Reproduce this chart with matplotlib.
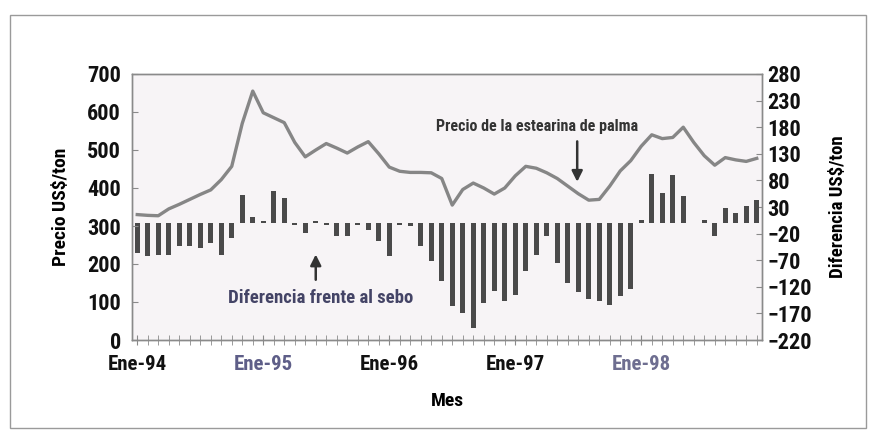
import matplotlib
matplotlib.use("Agg")
import matplotlib.pyplot as plt
from matplotlib.patches import Rectangle
from matplotlib import font_manager

names = {f.name for f in font_manager.fontManager.ttflist}
cands = ['Liberation Sans Narrow', 'Roboto Condensed', 'DejaVu Sans Condensed',
         'Open Sans Condensed', 'Noto Sans Condensed']
FONT = [c for c in cands if c in names] + ['DejaVu Sans']
plt.rcParams['font.family'] = FONT
plt.rcParams['font.weight'] = 'bold'
plt.rcParams['font.stretch'] = 'condensed'

# Monthly data, Ene-94 .. Dic-98
precio = [330, 328, 327, 345, 357, 370, 383, 395, 422, 457,
          570, 655, 598, 585, 572, 520, 482, 500, 517, 505,
          492, 508, 522, 490, 455, 444, 441, 441, 440, 425,
          355, 396, 413, 400, 384, 400, 432, 457, 452, 440,
          425, 405, 385, 368, 370, 405, 445, 472, 510, 540,
          530, 533, 560, 520, 485, 460, 480, 474, 470, 478]
diferencia = [-57, -62, -60, -60, -43, -43, -47, -38, -60, -28,
              53, 12, 3, 60, 47, -4, -19, 4, -4, -25,
              -25, -4, -13, -33, -62, -3, -6, -43, -72, -110,
              -157, -170, -198, -151, -128, -147, -136, -91, -60, -25,
              -75, -113, -130, -142, -147, -155, -138, -125, 6, 92,
              57, 90, 51, 0, 5, -25, 28, 19, 32, 43]
meses = list(range(len(precio)))
tick_pos = [0, 12, 24, 36, 48]
tick_labels = ['Ene-94', 'Ene-95', 'Ene-96', 'Ene-97', 'Ene-98']
tick_colors = ['#111111', '#5e5e88', '#111111', '#111111', '#6e6e90']
left_ticks = [0, 100, 200, 300, 400, 500, 600, 700]
right_ticks = [-220, -170, -120, -70, -20, 30, 80, 130, 180, 230, 280]

fig = plt.figure(figsize=(8.76, 4.36), dpi=100)
fig.patches.append(Rectangle((10/876, 1-428/436), 856/876, 413/436,
                             transform=fig.transFigure, fill=False,
                             edgecolor='#9a9a9a', linewidth=1.0))
ax = fig.add_axes([132/876, 1-340/436, 630/876, 266/436])
ax2 = ax.twinx()

ax2.bar(meses, diferencia, width=0.5, color='#4a4a4a', zorder=2)
ax.plot(meses, precio, color='#868686', linewidth=2.4, zorder=3)
ax.set_zorder(ax2.get_zorder() + 1)
ax.patch.set_visible(False)
ax2.patch.set_visible(True)
ax2.patch.set_facecolor('#f7f4f6')

ax.set_xlim(-0.5, 59.5)
ax.set_ylim(0, 700)
ax2.set_ylim(-220, 280)
ax.set_yticks(left_ticks)
ax2.set_yticks(right_ticks)
ax.set_xticks(tick_pos)
ax.set_xticklabels(tick_labels)
for lab, c in zip(ax.get_xticklabels(), tick_colors):
    lab.set_color(c)
ax.set_xticks(meses, minor=True)

for a in (ax, ax2):
    for s in a.spines.values():
        s.set_color('#8a8a8a')
        s.set_linewidth(1.0)

ax.tick_params(axis='y', direction='in', length=4, color='#8a8a8a',
               labelsize=16, pad=8, labelcolor='#111111')
ax2.tick_params(axis='y', direction='in', length=4, color='#8a8a8a',
                labelsize=16, pad=4, labelcolor='#111111')
ax.tick_params(axis='x', which='both', direction='inout', length=7,
               color='#8a8a8a', labelsize=15, pad=7)

ax.set_ylabel('Precio US$/ton', fontsize=14, fontweight='bold', labelpad=12)
ax2.set_ylabel('Diferencia US$/ton', fontsize=13.5, fontweight='bold', labelpad=12)
ax.set_xlabel('Mes', fontsize=14, fontweight='bold', labelpad=13)

ax.annotate('', xy=(41.9, 409), xytext=(41.9, 530),
            arrowprops=dict(arrowstyle='-|>', color='#333333', lw=1.8,
                            mutation_scale=16), zorder=5)
ax.text(38.1, 563, 'Precio de la estearina de palma', ha='center', va='center',
        fontsize=11.5, fontweight='bold', color='#333333', zorder=5)
ax2.annotate('', xy=(17.0, -54), xytext=(17.0, -112),
             arrowprops=dict(arrowstyle='-|>', color='#333333', lw=1.8,
                             mutation_scale=16))
ax2.text(17.5, -141, 'Diferencia frente al sebo', ha='center', va='center',
         fontsize=13.5, fontweight='bold', color='#444466')

fig.savefig('out.png', dpi=100)
